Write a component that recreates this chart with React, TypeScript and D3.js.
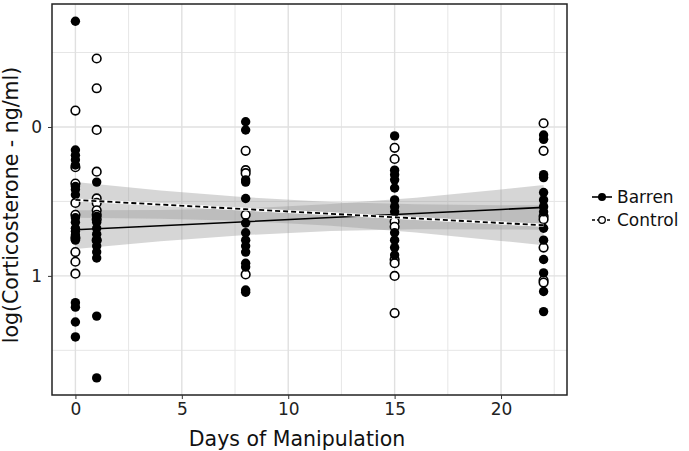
import { useEffect, useRef } from 'react';
import * as d3 from 'd3';

const barrenDays = [
  0, 0, 0, 0, 0, 0, 0, 0, 0, 0, 0, 0, 0, 0, 0, 0, 0, 0,
  1, 1, 1, 1, 1, 1, 1, 1, 1, 1, 1,
  8, 8, 8, 8, 8, 8, 8, 8, 8, 8, 8, 8, 8, 8,
  15, 15, 15, 15, 15, 15, 15, 15, 15, 15, 15, 15,
  22, 22, 22, 22, 22, 22, 22, 22, 22, 22, 22, 22, 22, 22,
];
const barrenValues = [
  -0.71, 0.155, 0.19, 0.22, 0.255, 0.4, 0.42, 0.455, 0.61, 0.64, 0.68, 0.7, 0.725, 0.76, 1.18, 1.21, 1.31, 1.41,
  0.37, 0.6, 0.64, 0.68, 0.72, 0.76, 0.8, 0.84, 0.88, 1.27, 1.685,
  -0.035, 0.02, 0.355, 0.37, 0.48, 0.645, 0.71, 0.76, 0.8, 0.84, 0.915, 0.94, 1.095, 1.11,
  0.06, 0.29, 0.32, 0.355, 0.41, 0.49, 0.535, 0.57, 0.71, 0.76, 0.81, 0.86,
  0.054, 0.083, 0.32, 0.34, 0.44, 0.49, 0.535, 0.57, 0.68, 0.76, 0.89, 0.98, 1.105, 1.24,
];

const controlDays = [
  0, 0, 0, 0, 0, 0, 0, 0, 0,
  1, 1, 1, 1, 1, 1, 1, 1, 1, 1,
  8, 8, 8, 8, 8,
  15, 15, 15, 15, 15, 15, 15, 15,
  22, 22, 22, 22, 22, 22, 22,
];
const controlValues = [
  -0.11, 0.27, 0.38, 0.51, 0.59, 0.745, 0.84, 0.905, 0.985,
  -0.46, -0.26, 0.02, 0.3, 0.48, 0.51, 0.56, 0.59, 0.62, 0.76,
  0.16, 0.29, 0.31, 0.59, 0.99,
  0.14, 0.215, 0.635, 0.67, 0.89, 0.915, 1.0, 1.25,
  -0.025, 0.16, 0.6, 0.62, 0.81, 1.03, 1.045,
];

// fitted lines and confidence bands
const fitDays = [0, 4, 8, 12, 16, 20, 22];
const barrenFit = [0.69, 0.663, 0.636, 0.608, 0.581, 0.554, 0.54];
const barrenLo = [0.56, 0.558, 0.546, 0.518, 0.476, 0.419, 0.39];
const barrenHi = [0.82, 0.768, 0.726, 0.698, 0.686, 0.689, 0.69];
const controlFit = [0.49, 0.521, 0.552, 0.583, 0.614, 0.645, 0.66];
const controlLo = [0.37, 0.426, 0.472, 0.503, 0.519, 0.525, 0.525];
const controlHi = [0.61, 0.616, 0.632, 0.663, 0.709, 0.765, 0.795];

const xTicks = [0, 5, 10, 15, 20];
const xMinor = [2.5, 7.5, 12.5, 17.5, 22.5];
const yTicks = [0, 1];
const yMinor = [-0.5, 0.5, 1.5];

const FONT = 'DejaVu Sans, Verdana, sans-serif';

export default function App() {
  const ref = useRef<SVGSVGElement>(null);

  useEffect(() => {
    if (!ref.current) return;
    const svg = d3.select(ref.current);
    svg.selectAll('*').remove();

    const left = 52, right = 567, top = 4, bottom = 395;
    const x = d3.scaleLinear().domain([-1.1, 23.1]).range([left, right]);
    const y = d3.scaleLinear().domain([-0.826, 1.8]).range([top, bottom]);

    // panel background + grid
    svg.append('rect')
      .attr('x', left).attr('y', top)
      .attr('width', right - left).attr('height', bottom - top)
      .attr('fill', '#fff');

    const grid = svg.append('g');
    grid.selectAll('.xminor').data(xMinor).enter().append('line')
      .attr('x1', d => x(d)).attr('x2', d => x(d))
      .attr('y1', top).attr('y2', bottom)
      .attr('stroke', '#e6e6e6').attr('stroke-width', 1);
    grid.selectAll('.yminor').data(yMinor).enter().append('line')
      .attr('y1', d => y(d)).attr('y2', d => y(d))
      .attr('x1', left).attr('x2', right)
      .attr('stroke', '#e6e6e6').attr('stroke-width', 1);
    grid.selectAll('.xmajor').data(xTicks).enter().append('line')
      .attr('x1', d => x(d)).attr('x2', d => x(d))
      .attr('y1', top).attr('y2', bottom)
      .attr('stroke', '#e0e0e0').attr('stroke-width', 1.4);
    grid.selectAll('.ymajor').data(yTicks).enter().append('line')
      .attr('y1', d => y(d)).attr('y2', d => y(d))
      .attr('x1', left).attr('x2', right)
      .attr('stroke', '#e0e0e0').attr('stroke-width', 1.4);

    // bands
    const band = (lo: number[], hi: number[]) =>
      d3.area<number>()
        .x((_, i) => x(fitDays[i]))
        .y0((_, i) => y(lo[i]))
        .y1((_, i) => y(hi[i]))(fitDays);
    svg.append('path').attr('d', band(barrenLo, barrenHi))
      .attr('fill', '#999').attr('fill-opacity', 0.4);
    svg.append('path').attr('d', band(controlLo, controlHi))
      .attr('fill', '#999').attr('fill-opacity', 0.4);

    // points
    svg.append('g').selectAll('circle').data(controlValues).enter().append('circle')
      .attr('cx', (_, i) => x(controlDays[i]))
      .attr('cy', d => y(d))
      .attr('r', 4.3)
      .attr('fill', '#fff').attr('stroke', '#000').attr('stroke-width', 1.6);
    svg.append('g').selectAll('circle').data(barrenValues).enter().append('circle')
      .attr('cx', (_, i) => x(barrenDays[i]))
      .attr('cy', d => y(d))
      .attr('r', 4.7)
      .attr('fill', '#000');

    // fitted lines
    const line = (vals: number[]) =>
      d3.line<number>().x((_, i) => x(fitDays[i])).y(d => y(d))(vals);
    svg.append('path').attr('d', line(barrenFit))
      .attr('fill', 'none').attr('stroke', '#000').attr('stroke-width', 1.6);
    svg.append('path').attr('d', line(controlFit))
      .attr('fill', 'none').attr('stroke', '#fff').attr('stroke-width', 3);
    svg.append('path').attr('d', line(controlFit))
      .attr('fill', 'none').attr('stroke', '#000').attr('stroke-width', 1.8)
      .attr('stroke-dasharray', '5,3');

    // border
    svg.append('rect')
      .attr('x', left).attr('y', top)
      .attr('width', right - left).attr('height', bottom - top)
      .attr('fill', 'none').attr('stroke', '#222').attr('stroke-width', 1.5);

    // axes
    const xAxis = svg.append('g')
      .attr('transform', `translate(0,${bottom})`)
      .call(d3.axisBottom(x).tickValues(xTicks).tickSize(4).tickPadding(4).tickFormat(d3.format('d')));
    xAxis.select('.domain').remove();
    xAxis.selectAll('.tick line').attr('stroke', '#333');
    xAxis.selectAll('.tick text')
      .attr('font-family', FONT).attr('font-size', 17).attr('fill', '#222');

    const yAxis = svg.append('g')
      .attr('transform', `translate(${left},0)`)
      .call(d3.axisLeft(y).tickValues(yTicks).tickSize(4).tickPadding(6).tickFormat(d3.format('d')));
    yAxis.select('.domain').remove();
    yAxis.selectAll('.tick line').attr('stroke', '#333');
    yAxis.selectAll('.tick text')
      .attr('font-family', FONT).attr('font-size', 17).attr('fill', '#222');

    // titles
    svg.append('text')
      .attr('x', 297).attr('y', 446)
      .attr('text-anchor', 'middle')
      .attr('font-family', FONT).attr('font-size', 20.5).attr('fill', '#111')
      .text('Days of Manipulation');
    svg.append('text')
      .attr('transform', `translate(18,205) rotate(-90)`)
      .attr('text-anchor', 'middle')
      .attr('font-family', FONT).attr('font-size', 20.5).attr('fill', '#111')
      .text('log(Corticosterone - ng/ml)');

    // legend
    const legend = svg.append('g');
    const items = [
      { label: 'Barren', dash: null, filled: true, cy: 197 },
      { label: 'Control', dash: '3,2', filled: false, cy: 220 },
    ];
    items.forEach(it => {
      legend.append('line')
        .attr('x1', 592).attr('x2', 612).attr('y1', it.cy).attr('y2', it.cy)
        .attr('stroke', '#000').attr('stroke-width', 1.6)
        .attr('stroke-dasharray', it.dash);
      legend.append('circle')
        .attr('cx', 602).attr('cy', it.cy).attr('r', it.filled ? 4 : 3.3)
        .attr('fill', it.filled ? '#000' : '#fff')
        .attr('stroke', '#000').attr('stroke-width', it.filled ? 0 : 1.3);
      legend.append('text')
        .attr('x', 617).attr('y', it.cy + 6)
        .attr('font-family', FONT).attr('font-size', 17).attr('fill', '#111')
        .text(it.label);
    });
  }, []);

  return <svg ref={ref} width={689} height={451} style={{ display: 'block', position: 'absolute', left: 0, top: 0 }} />;
}
